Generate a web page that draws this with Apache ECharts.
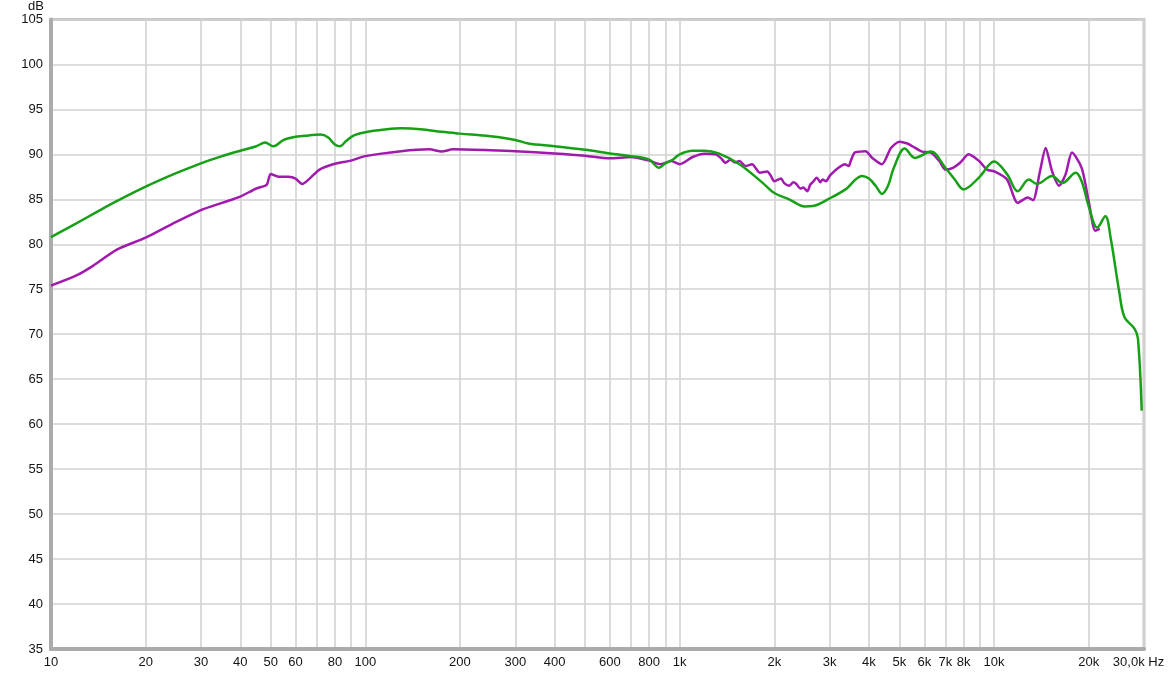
<!DOCTYPE html>
<html>
<head>
<meta charset="utf-8">
<script src="https://cdn.jsdelivr.net/npm/echarts@6/dist/echarts.min.js"></script>
<style>html,body{margin:0;padding:0;background:#fff}#c{width:1168px;height:676px}</style>
</head>
<body>
<div id="c"></div>
<script>
// Frequencies (Hz) and levels (dB)
var greenFreq = [10,12,14,16,20,25,30,35,40,45,48,51,55,60,66,72,76,80,83,87,92,100,115,130,150,175,200,250,300,330,400,500,600,700,800,860,900,950,1000,1100,1200,1330,1550,1840,2000,2230,2500,2650,3000,3370,3800,4000,4200,4400,4600,4800,5200,5600,6300,7000,7500,8000,9000,10000,11000,11900,12900,13700,15300,16500,18200,19000,20000,21300,22600,23500,25000,26000,28000,28700,29500];
var greenDb   = [80.8,82.3,83.6,84.7,86.4,87.9,89.0,89.8,90.4,90.9,91.3,90.9,91.6,91.95,92.1,92.2,91.9,91.1,90.9,91.5,92.1,92.45,92.75,92.9,92.8,92.5,92.3,92.0,91.6,91.2,90.9,90.5,90.1,89.8,89.4,88.5,89.0,89.4,90.0,90.4,90.4,90.1,88.9,86.8,85.7,85.0,84.2,84.25,85.1,86.1,87.6,87.3,86.5,85.6,86.5,88.5,90.65,89.6,90.3,88.5,87.2,86.1,87.5,89.2,87.8,85.9,87.2,86.7,87.6,86.8,87.95,87.0,84.25,81.85,83.1,80.7,74.8,71.9,70.6,69.5,61.5];

var magentaFreq = [10,12,13.6,16.2,20,24.4,30,35,40,45,48.5,50,53,57,60,63,66.5,71.5,80,90,100,130,160,175,190,250,300,400,500,600,700,800,870,940,1000,1100,1200,1300,1350,1400,1450,1500,1550,1620,1700,1750,1800,1900,1950,2000,2100,2150,2230,2300,2350,2420,2470,2550,2600,2650,2730,2800,2850,2920,3000,3100,3200,3350,3450,3500,3600,3750,3900,4100,4400,4700,5000,5300,5500,5900,6300,6700,7000,7400,7800,8300,9000,9500,10100,11000,11900,12800,13300,14000,14600,15300,16100,16900,17700,19000,20000,21000,21700];
var magentaDb   = [75.4,76.5,77.6,79.4,80.74,82.3,83.8,84.6,85.3,86.2,86.6,87.8,87.5,87.5,87.3,86.7,87.3,88.3,88.95,89.3,89.8,90.35,90.55,90.3,90.55,90.45,90.35,90.1,89.85,89.55,89.7,89.3,88.9,89.25,88.9,89.7,90.06,90.0,89.6,89.06,89.4,89.1,89.25,88.7,88.9,88.4,87.95,88.1,87.6,87.0,87.3,86.8,86.5,86.9,86.7,86.2,86.3,85.9,86.6,86.9,87.4,86.9,87.2,87.0,87.6,88.1,88.5,88.9,88.7,89.25,90.2,90.3,90.35,89.6,88.9,90.7,91.4,91.2,90.9,90.3,90.2,89.25,88.3,88.5,89.06,90.0,89.2,88.3,88.06,87.2,84.6,85.2,84.9,88.1,90.7,88.1,86.5,87.8,90.2,88.5,84.8,81.5,81.7];

var xGridValues = [10,20,30,40,50,60,70,80,90,100,200,300,400,500,600,700,800,900,1000,2000,3000,4000,5000,6000,7000,8000,9000,10000,20000,30000];
var xLabelValues = [10,20,30,40,50,60,80,100,200,300,400,600,800,1000,2000,3000,4000,5000,6000,7000,8000,10000,20000,30000];

function pairs(f, d){ return f.map(function(v,i){ return [v, d[i]]; }); }

var chart = echarts.init(document.getElementById('c'), null, {renderer:'canvas'});
var font = 'Liberation Sans, Arial, sans-serif';
chart.setOption({
  animation: false,
  grid: {left: 51, right: 24, top: 18, bottom: 27, show: true, borderColor: '#c6c6c6', borderWidth: 3, backgroundColor: '#fff'},
  xAxis: {
    type: 'log', logBase: 10, min: 10, max: 30000,
    axisLine: {show: true, lineStyle: {color: '#ababab', width: 4}},
    axisTick: {show: false, customValues: xGridValues},
    splitLine: {show: true, lineStyle: {color: '#d2d2d2', width: 1.6}},
    axisLabel: {
      customValues: xLabelValues, margin: 7, color: '#141414', fontSize: 13, fontFamily: font,
      formatter: function(v){
        if (v === 30000) return '{last|30,0k Hz}';
        return v >= 1000 ? (v/1000) + 'k' : String(v);
      },
      rich: {last: {fontSize: 13, fontFamily: font, color: '#141414', padding: [0, 11, 0, 0]}}
    }
  },
  yAxis: {
    type: 'value', min: 35, max: 105, interval: 5,
    name: 'dB', nameLocation: 'end', nameGap: 9,
    nameTextStyle: {color: '#141414', fontSize: 13, fontFamily: font, align: 'right', verticalAlign: 'middle', padding: [0, 7, 0, 0]},
    axisLine: {show: true, lineStyle: {color: '#ababab', width: 4}},
    axisTick: {show: false},
    splitLine: {show: true, lineStyle: {color: '#d2d2d2', width: 1.6}},
    axisLabel: {margin: 8, color: '#141414', fontSize: 13, fontFamily: font}
  },
  series: [
    {type: 'line', name: 'magenta', data: pairs(magentaFreq, magentaDb), showSymbol: false, smooth: 0.25,
     lineStyle: {color: '#a11aad', width: 2.5}, z: 3},
    {type: 'line', name: 'green', data: pairs(greenFreq, greenDb), showSymbol: false, smooth: 0.35,
     lineStyle: {color: '#16a016', width: 2.5}, z: 4}
  ]
});
</script>
</body>
</html>
